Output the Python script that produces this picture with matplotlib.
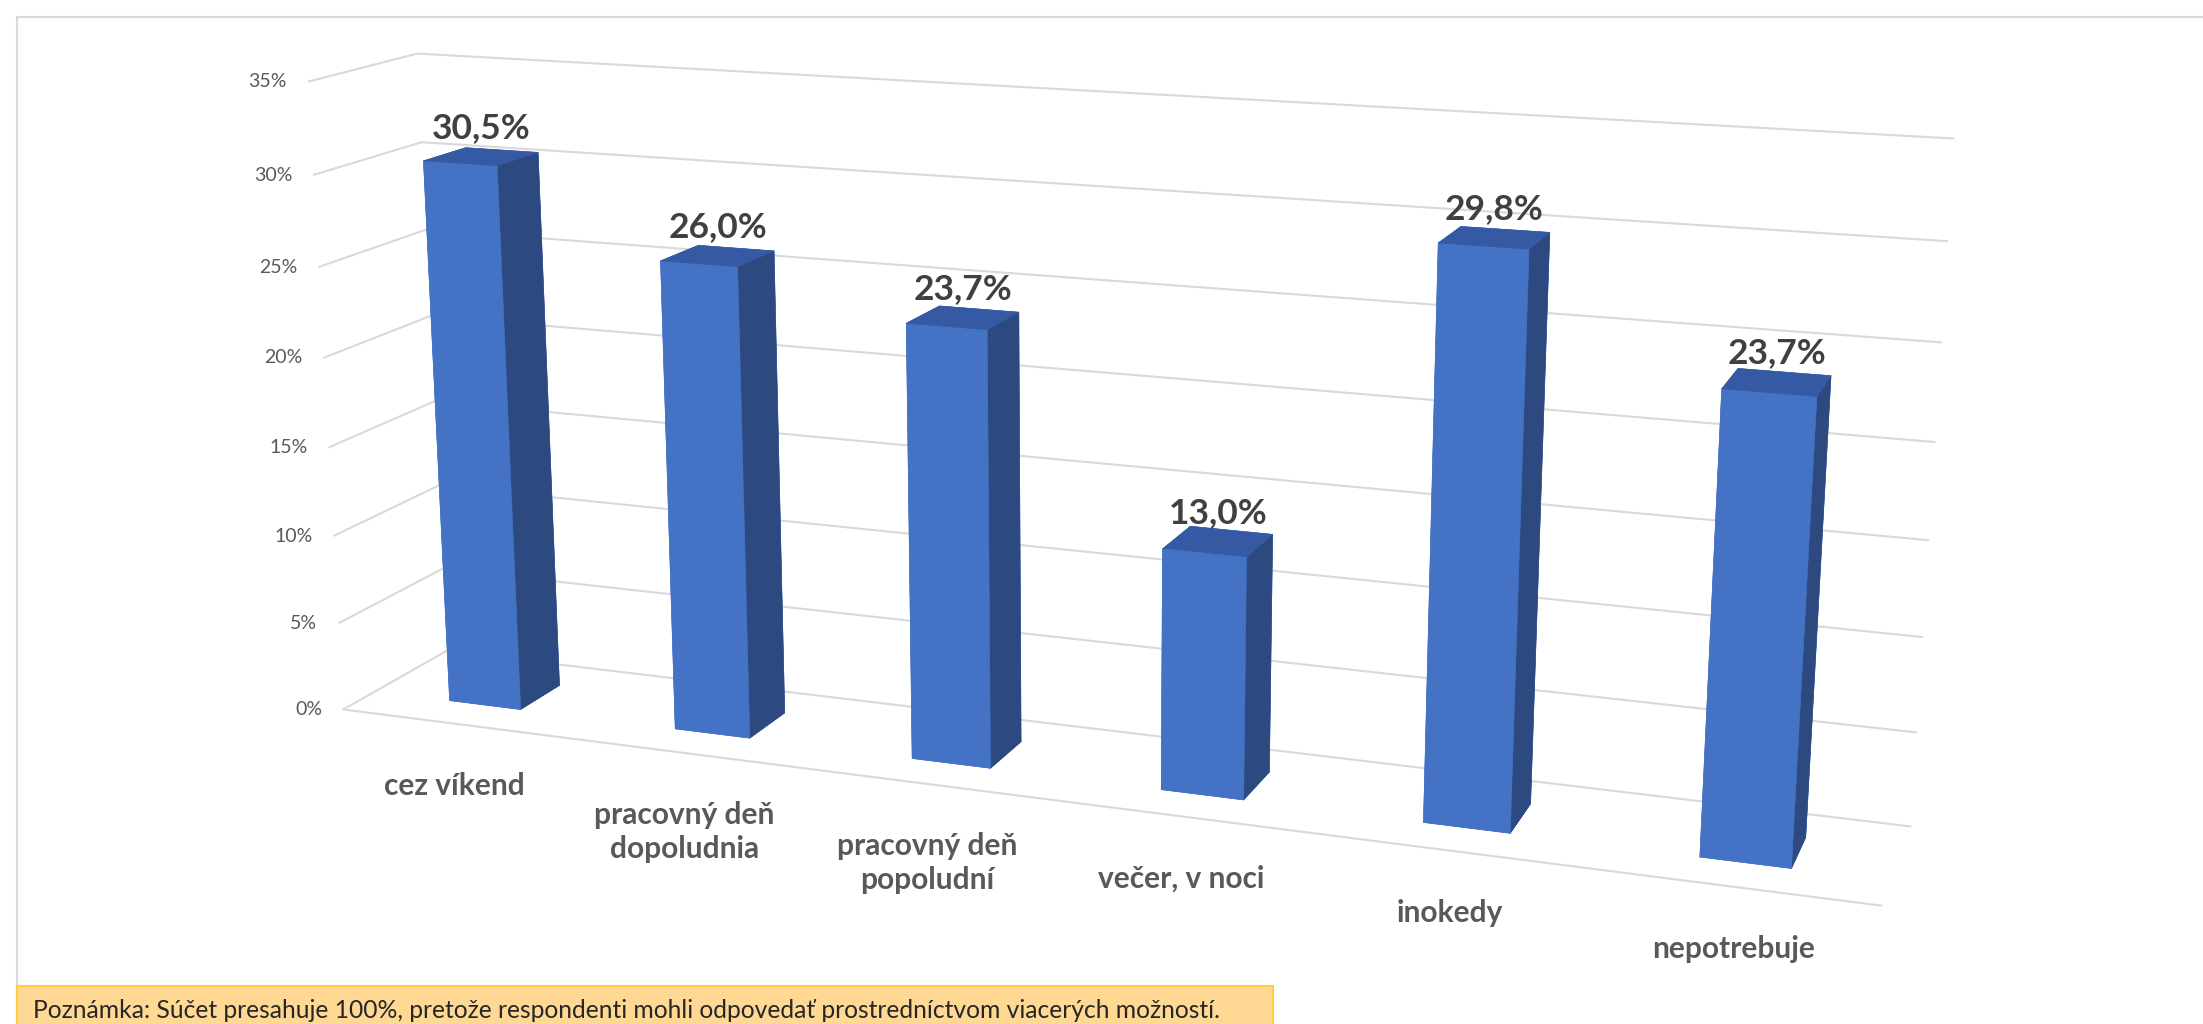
import numpy as np
import matplotlib.pyplot as plt
from matplotlib.patches import Rectangle
from matplotlib.transforms import offset_copy

categories = ["cez víkend", "pracovný deň\ndopoludnia", "pracovný deň\npopoludní",
              "večer, v noci", "inokedy", "nepotrebuje"]
values = [30.5, 26.0, 23.7, 13.0, 29.8, 23.7]
value_labels = ["30,5%", "26,0%", "23,7%", "13,0%", "29,8%", "23,7%"]
zticks = [0, 5, 10, 15, 20, 25, 30, 35]
ztick_labels = ["0%", "5%", "10%", "15%", "20%", "25%", "30%", "35%"]
note = ("Poznámka: Súčet presahuje 100%, pretože respondenti mohli odpovedať "
        "prostredníctvom viacerých možností.")

FONT = ["Lato", "DejaVu Sans"]
plt.rcParams["font.family"] = FONT
plt.rcParams["grid.color"] = "#D9D9D9"
plt.rcParams["grid.linewidth"] = 1.5

W, H = 2203, 1024
BAR_W = 0.32     # bar width in category units
BAR_D = 0.32     # bar depth
DEPTH = 0.8      # floor depth
ZMAX = 35

FRONT = "#4472C4"
TOP = "#3559A2"
SIDE = "#2C4A80"

fig = plt.figure(figsize=(W / 100, H / 100), dpi=100)

# chart frame and note box
fig.add_artist(Rectangle((17 / W, -0.1), 1.2, (H - 17) / H + 0.1,
                         transform=fig.transFigure, fill=False,
                         edgecolor="#D9D9D9", linewidth=1.5))
fig.add_artist(Rectangle((17 / W, -0.1), (1273 - 17) / W, (H - 986) / H + 0.1,
                         transform=fig.transFigure, facecolor="#FFD993",
                         edgecolor="#FFCC44", linewidth=1.5, zorder=5))
fig.text(33 / W, 1 - 1010 / H, note, fontsize=17.75, color="#262626",
         va="center", ha="left", zorder=6)

ax = fig.add_axes([-0.016, -0.3075, 1.0, 1.7], projection="3d",
                  proj_type="persp", focal_length=0.37)
ax.view_init(elev=14.5, azim=-70)
ax.set_box_aspect((6, DEPTH, 2.5), zoom=0.99)

n = len(values)
xs = np.arange(n) + 0.5 - BAR_W / 2
ys = np.full(n, (DEPTH - BAR_D) / 2)
# face order in bar3d: -z, +z, -y, +y, -x, +x
colors = [FRONT, TOP, FRONT, FRONT, FRONT, SIDE] * n
ax.bar3d(xs, ys, np.zeros(n), BAR_W, BAR_D, values, color=colors,
         edgecolor=colors, linewidth=0.4, shade=False)

ax.set_xlim(0, n)
ax.set_ylim(0, DEPTH)
ax.set_zlim(0, ZMAX)
ax.set_xticks([])
ax.set_yticks([])
ax.set_zticks(zticks)
ax.set_zticklabels([])
ax.tick_params(axis="z", color="none", labelcolor="none")
for axis in (ax.xaxis, ax.yaxis, ax.zaxis):
    axis.set_pane_color((1, 1, 1, 0))
    axis.line.set_color((1, 1, 1, 0))

# front edge of the floor
ax.plot([0, n], [0, 0], [0, 0], color="#D9D9D9", linewidth=1.5)

# value axis labels
lab_tr = offset_copy(ax.transData, fig=fig, x=-21, y=0, units="dots")
for z, s in zip(zticks, ztick_labels):
    ax.text(0, 0, z, s, ha="right", va="center", fontsize=14,
            color="#595959", transform=lab_tr, zorder=10)

# data labels
val_tr = offset_copy(ax.transData, fig=fig, x=0, y=19, units="dots")
for i, (v, s) in enumerate(zip(values, value_labels)):
    ax.text(i + 0.5, DEPTH / 2, v, s, ha="center", va="baseline",
            fontsize=25.5, fontweight="bold", color="#404040",
            transform=val_tr, zorder=10)

# category labels
cat_tr = offset_copy(ax.transData, fig=fig, x=0, y=-48, units="dots")
for i, c in enumerate(categories):
    ax.text(i + 0.5, 0, 0, c, ha="center", va="top", fontsize=21.5,
            fontweight="bold", color="#595959", linespacing=1.25,
            transform=cat_tr, zorder=10)

fig.savefig("out.png", dpi=100)
